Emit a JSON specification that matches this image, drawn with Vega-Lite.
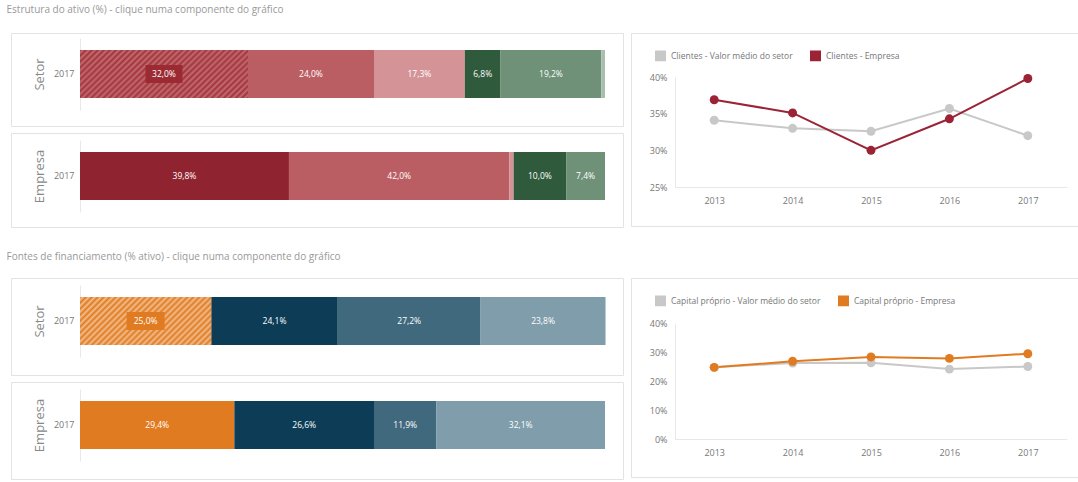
{
  "$schema": "https://vega.github.io/schema/vega-lite/v6.json",
  "background": "white",
  "padding": {"left": 6, "top": 4, "right": 0, "bottom": 0},
  "config": {
    "font": "Open Sans",
    "locale": {"number": {"decimal": ",", "thousands": ".", "grouping": [3], "currency": ["", " €"]}},
    "view": {"stroke": "#e3e3e3", "strokeWidth": 1},
    "axis": {"labelFont": "Open Sans", "labelFontSize": 9, "labelColor": "#777777", "ticks": false, "grid": false, "domainColor": "#e8e8e8", "titleFont": "Open Sans", "titleFontWeight": "normal", "titleColor": "#888888"},
    "title": {"font": "Open Sans", "fontSize": 10, "fontWeight": "normal", "color": "#999999", "anchor": "start"},
    "legend": {"labelFont": "Open Sans"}
  },
  "datasets": {
    "ativo": [
      {"grupo": "Setor", "ano": "2017", "ordem": 1, "componente": "Clientes", "valor": 0.320},
      {"grupo": "Setor", "ano": "2017", "ordem": 2, "componente": "Inventários", "valor": 0.240},
      {"grupo": "Setor", "ano": "2017", "ordem": 3, "componente": "Outros ativos correntes", "valor": 0.173},
      {"grupo": "Setor", "ano": "2017", "ordem": 4, "componente": "Ativos fixos tangíveis", "valor": 0.068},
      {"grupo": "Setor", "ano": "2017", "ordem": 5, "componente": "Outros ativos não correntes", "valor": 0.192},
      {"grupo": "Setor", "ano": "2017", "ordem": 6, "componente": "Ativos intangíveis", "valor": 0.007},
      {"grupo": "Empresa", "ano": "2017", "ordem": 1, "componente": "Clientes", "valor": 0.398},
      {"grupo": "Empresa", "ano": "2017", "ordem": 2, "componente": "Inventários", "valor": 0.420},
      {"grupo": "Empresa", "ano": "2017", "ordem": 3, "componente": "Outros ativos correntes", "valor": 0.008},
      {"grupo": "Empresa", "ano": "2017", "ordem": 4, "componente": "Ativos fixos tangíveis", "valor": 0.100},
      {"grupo": "Empresa", "ano": "2017", "ordem": 5, "componente": "Outros ativos não correntes", "valor": 0.074}
    ],
    "financiamento": [
      {"grupo": "Setor", "ano": "2017", "ordem": 1, "componente": "Capital próprio", "valor": 0.250},
      {"grupo": "Setor", "ano": "2017", "ordem": 2, "componente": "Financiamentos obtidos", "valor": 0.241},
      {"grupo": "Setor", "ano": "2017", "ordem": 3, "componente": "Fornecedores", "valor": 0.272},
      {"grupo": "Setor", "ano": "2017", "ordem": 4, "componente": "Outros passivos", "valor": 0.238},
      {"grupo": "Empresa", "ano": "2017", "ordem": 1, "componente": "Capital próprio", "valor": 0.294},
      {"grupo": "Empresa", "ano": "2017", "ordem": 2, "componente": "Financiamentos obtidos", "valor": 0.266},
      {"grupo": "Empresa", "ano": "2017", "ordem": 3, "componente": "Fornecedores", "valor": 0.119},
      {"grupo": "Empresa", "ano": "2017", "ordem": 4, "componente": "Outros passivos", "valor": 0.321}
    ],
    "clientes": [
      {"ano": "2013", "serie": "Clientes - Valor médio do setor", "valor": 0.341},
      {"ano": "2014", "serie": "Clientes - Valor médio do setor", "valor": 0.330},
      {"ano": "2015", "serie": "Clientes - Valor médio do setor", "valor": 0.326},
      {"ano": "2016", "serie": "Clientes - Valor médio do setor", "valor": 0.357},
      {"ano": "2017", "serie": "Clientes - Valor médio do setor", "valor": 0.320},
      {"ano": "2013", "serie": "Clientes - Empresa", "valor": 0.369},
      {"ano": "2014", "serie": "Clientes - Empresa", "valor": 0.351},
      {"ano": "2015", "serie": "Clientes - Empresa", "valor": 0.300},
      {"ano": "2016", "serie": "Clientes - Empresa", "valor": 0.343},
      {"ano": "2017", "serie": "Clientes - Empresa", "valor": 0.398}
    ],
    "capital": [
      {"ano": "2013", "serie": "Capital próprio - Valor médio do setor", "valor": 0.247},
      {"ano": "2014", "serie": "Capital próprio - Valor médio do setor", "valor": 0.262},
      {"ano": "2015", "serie": "Capital próprio - Valor médio do setor", "valor": 0.263},
      {"ano": "2016", "serie": "Capital próprio - Valor médio do setor", "valor": 0.241},
      {"ano": "2017", "serie": "Capital próprio - Valor médio do setor", "valor": 0.250},
      {"ano": "2013", "serie": "Capital próprio - Empresa", "valor": 0.247},
      {"ano": "2014", "serie": "Capital próprio - Empresa", "valor": 0.268},
      {"ano": "2015", "serie": "Capital próprio - Empresa", "valor": 0.283},
      {"ano": "2016", "serie": "Capital próprio - Empresa", "valor": 0.278},
      {"ano": "2017", "serie": "Capital próprio - Empresa", "valor": 0.294}
    ]
  },
  "spacing": 23,
  "resolve": {"scale": {"x": "independent", "y": "independent", "color": "independent"}},
  "vconcat": [
    {
      "title": {"text": "Estrutura do ativo (%) - clique numa componente do gráfico", "dx": -4, "offset": 18},
      "spacing": 6,
      "resolve": {"scale": {"x": "independent", "y": "independent", "color": "independent"}},
      "hconcat": [
        {
          "spacing": 5,
          "resolve": {"scale": {"x": "independent", "y": "independent", "color": "independent"}},
          "vconcat": [
            {
              "width": 612, "height": 93,
              "data": {"name": "ativo"},
              "transform": [
                {"filter": "datum.grupo === 'Setor'"},
                {"stack": "valor", "groupby": ["grupo"], "sort": [{"field": "ordem", "order": "ascending"}], "as": ["v0", "v1"]}
              ],
              "encoding": {
                "y": {"field": "ano", "type": "nominal", "scale": {"range": [5, 77], "paddingInner": 0, "paddingOuter": 0.25}, "axis": {"title": "Setor", "offset": -69, "labelPadding": 6, "titleFontSize": 13, "titleX": -41, "titleBaseline": "middle"}}
              },
              "layer": [
                {"mark": {"type": "bar"}, "encoding": {"x": {"field": "v0", "type": "quantitative", "scale": {"domain": [0, 1], "range": [69, 594]}, "axis": null}, "x2": {"field": "v1"}, "color": {"field": "componente", "type": "nominal", "scale": {"domain": ["Clientes", "Inventários", "Outros ativos correntes", "Ativos fixos tangíveis", "Outros ativos não correntes", "Ativos intangíveis"], "range": ["#b4555b", "#bb5e63", "#d49497", "#2f5a3b", "#6e9177", "#a9bfae"]}, "legend": null}}},
                {"transform": [{"filter": "datum.ordem === 1"}], "mark": {"type": "bar", "color": {"gradient": "linear", "x1": 0, "y1": 0, "x2": 1.19, "y2": 0.3477, "stops": [
                  {"offset": 0, "color": "#a2333c"}, {"offset": 0.0139, "color": "#c26c71"}, {"offset": 0.0278, "color": "#a2333c"}, {"offset": 0.0417, "color": "#c26c71"}, {"offset": 0.0556, "color": "#a2333c"}, {"offset": 0.0694, "color": "#c26c71"}, {"offset": 0.0833, "color": "#a2333c"}, {"offset": 0.0972, "color": "#c26c71"}, {"offset": 0.1111, "color": "#a2333c"}, {"offset": 0.125, "color": "#c26c71"}, {"offset": 0.1389, "color": "#a2333c"}, {"offset": 0.1528, "color": "#c26c71"}, {"offset": 0.1667, "color": "#a2333c"}, {"offset": 0.1806, "color": "#c26c71"}, {"offset": 0.1944, "color": "#a2333c"}, {"offset": 0.2083, "color": "#c26c71"}, {"offset": 0.2222, "color": "#a2333c"}, {"offset": 0.2361, "color": "#c26c71"}, {"offset": 0.25, "color": "#a2333c"}, {"offset": 0.2639, "color": "#c26c71"}, {"offset": 0.2778, "color": "#a2333c"}, {"offset": 0.2917, "color": "#c26c71"}, {"offset": 0.3056, "color": "#a2333c"}, {"offset": 0.3194, "color": "#c26c71"}, {"offset": 0.3333, "color": "#a2333c"}, {"offset": 0.3472, "color": "#c26c71"}, {"offset": 0.3611, "color": "#a2333c"}, {"offset": 0.375, "color": "#c26c71"}, {"offset": 0.3889, "color": "#a2333c"}, {"offset": 0.4028, "color": "#c26c71"}, {"offset": 0.4167, "color": "#a2333c"}, {"offset": 0.4306, "color": "#c26c71"}, {"offset": 0.4444, "color": "#a2333c"}, {"offset": 0.4583, "color": "#c26c71"}, {"offset": 0.4722, "color": "#a2333c"}, {"offset": 0.4861, "color": "#c26c71"}, {"offset": 0.5, "color": "#a2333c"}, {"offset": 0.5139, "color": "#c26c71"}, {"offset": 0.5278, "color": "#a2333c"}, {"offset": 0.5417, "color": "#c26c71"}, {"offset": 0.5556, "color": "#a2333c"}, {"offset": 0.5694, "color": "#c26c71"}, {"offset": 0.5833, "color": "#a2333c"}, {"offset": 0.5972, "color": "#c26c71"}, {"offset": 0.6111, "color": "#a2333c"}, {"offset": 0.625, "color": "#c26c71"}, {"offset": 0.6389, "color": "#a2333c"}, {"offset": 0.6528, "color": "#c26c71"}, {"offset": 0.6667, "color": "#a2333c"}, {"offset": 0.6806, "color": "#c26c71"}, {"offset": 0.6944, "color": "#a2333c"}, {"offset": 0.7083, "color": "#c26c71"}, {"offset": 0.7222, "color": "#a2333c"}, {"offset": 0.7361, "color": "#c26c71"}, {"offset": 0.75, "color": "#a2333c"}, {"offset": 0.7639, "color": "#c26c71"}, {"offset": 0.7778, "color": "#a2333c"}, {"offset": 0.7917, "color": "#c26c71"}, {"offset": 0.8056, "color": "#a2333c"}, {"offset": 0.8194, "color": "#c26c71"}, {"offset": 0.8333, "color": "#a2333c"}, {"offset": 0.8472, "color": "#c26c71"}, {"offset": 0.8611, "color": "#a2333c"}, {"offset": 0.875, "color": "#c26c71"}, {"offset": 0.8889, "color": "#a2333c"}, {"offset": 0.9028, "color": "#c26c71"}, {"offset": 0.9167, "color": "#a2333c"}, {"offset": 0.9306, "color": "#c26c71"}, {"offset": 0.9444, "color": "#a2333c"}, {"offset": 0.9583, "color": "#c26c71"}, {"offset": 0.9722, "color": "#a2333c"}, {"offset": 0.9861, "color": "#c26c71"}, {"offset": 1, "color": "#a2333c"}
                ]}}, "encoding": {"x": {"field": "v0", "type": "quantitative"}, "x2": {"field": "v1"}}},
                {"transform": [{"filter": "datum.valor >= 0.03"}, {"fold": ["v0", "v1"], "as": ["k", "pos"]}, {"aggregate": [{"op": "mean", "field": "pos", "as": "mid"}], "groupby": ["componente", "ano", "ordem", "valor"]}],
                 "layer": [
                   {"transform": [{"filter": "datum.ordem === 1"}], "mark": {"type": "bar", "color": "#9b2a33", "height": 18, "xOffset": -18.5, "x2Offset": 18.5}, "encoding": {"x": {"field": "mid", "type": "quantitative"}, "x2": {"field": "mid"}}},
                   {"mark": {"type": "text", "color": "white", "fontSize": 8.5}, "encoding": {"x": {"field": "mid", "type": "quantitative"}, "text": {"field": "valor", "type": "quantitative", "format": ".1%"}}}
                 ]}
              ]
            },
            {
              "width": 612, "height": 94,
              "data": {"name": "ativo"},
              "transform": [
                {"filter": "datum.grupo === 'Empresa'"},
                {"stack": "valor", "groupby": ["grupo"], "sort": [{"field": "ordem", "order": "ascending"}], "as": ["v0", "v1"]}
              ],
              "encoding": {
                "y": {"field": "ano", "type": "nominal", "scale": {"range": [7, 79], "paddingInner": 0, "paddingOuter": 0.25}, "axis": {"title": "Empresa", "offset": -69, "labelPadding": 6, "titleFontSize": 13, "titleX": -41, "titleBaseline": "middle"}}
              },
              "layer": [
                {"mark": {"type": "bar"}, "encoding": {"x": {"field": "v0", "type": "quantitative", "scale": {"domain": [0, 1], "range": [69, 594]}, "axis": null}, "x2": {"field": "v1"}, "color": {"field": "componente", "type": "nominal", "scale": {"domain": ["Clientes", "Inventários", "Outros ativos correntes", "Ativos fixos tangíveis", "Outros ativos não correntes", "Ativos intangíveis"], "range": ["#8f2430", "#bb5e63", "#d49497", "#2f5a3b", "#6e9177", "#a9bfae"]}, "legend": null}}},
                {"transform": [{"filter": "datum.valor >= 0.03"}, {"fold": ["v0", "v1"], "as": ["k", "pos"]}, {"aggregate": [{"op": "mean", "field": "pos", "as": "mid"}], "groupby": ["componente", "ano", "ordem", "valor"]}],
                 "mark": {"type": "text", "color": "white", "fontSize": 8.5}, "encoding": {"x": {"field": "mid", "type": "quantitative"}, "text": {"field": "valor", "type": "quantitative", "format": ".1%"}}}
              ]
            }
          ]
        },
        {
          "width": 447, "height": 193,
          "data": {"name": "clientes"},
          "encoding": {
            "x": {"field": "ano", "type": "ordinal", "scale": {"type": "point", "range": [44, 436], "padding": 0.5}, "axis": {"title": null, "labelAngle": 0, "offset": -39, "labelPadding": 9}},
            "y": {"field": "valor", "type": "quantitative", "scale": {"domain": [0.25, 0.40], "range": [154, 44], "nice": false, "zero": false}, "axis": {"title": null, "format": ".0%", "values": [0.25, 0.30, 0.35, 0.40], "offset": -44, "labelPadding": 8}},
            "color": {"field": "serie", "type": "nominal", "scale": {"domain": ["Clientes - Valor médio do setor", "Clientes - Empresa"], "range": ["#c8c8c8", "#9b2335"]}, "legend": {"orient": "none", "legendX": 24, "legendY": 17, "direction": "horizontal", "title": null, "symbolType": "square", "symbolSize": 90, "labelFontSize": 8.5, "labelColor": "#777777", "columnPadding": 14, "labelOffset": 5}}
          },
          "layer": [
            {"mark": {"type": "line", "strokeWidth": 2}},
            {"mark": {"type": "point", "filled": true, "size": 80, "opacity": 1}}
          ]
        }
      ]
    },
    {
      "title": {"text": "Fontes de financiamento (% ativo) - clique numa componente do gráfico", "dx": -4, "offset": 16},
      "spacing": 6,
      "resolve": {"scale": {"x": "independent", "y": "independent", "color": "independent"}},
      "hconcat": [
        {
          "spacing": 5,
          "resolve": {"scale": {"x": "independent", "y": "independent", "color": "independent"}},
          "vconcat": [
            {
              "width": 612, "height": 97,
              "data": {"name": "financiamento"},
              "transform": [
                {"filter": "datum.grupo === 'Setor'"},
                {"stack": "valor", "groupby": ["grupo"], "sort": [{"field": "ordem", "order": "ascending"}], "as": ["v0", "v1"]}
              ],
              "encoding": {
                "y": {"field": "ano", "type": "nominal", "scale": {"range": [7, 79], "paddingInner": 0, "paddingOuter": 0.25}, "axis": {"title": "Setor", "offset": -69, "labelPadding": 6, "titleFontSize": 13, "titleX": -41, "titleBaseline": "middle"}}
              },
              "layer": [
                {"mark": {"type": "bar"}, "encoding": {"x": {"field": "v0", "type": "quantitative", "scale": {"domain": [0, 1], "range": [69, 594]}, "axis": null}, "x2": {"field": "v1"}, "color": {"field": "componente", "type": "nominal", "scale": {"domain": ["Capital próprio", "Financiamentos obtidos", "Fornecedores", "Outros passivos"], "range": ["#e8a05e", "#0d3d56", "#41697e", "#7f9dab"]}, "legend": null}}},
                {"transform": [{"filter": "datum.ordem === 1"}], "mark": {"type": "bar", "color": {"gradient": "linear", "x1": 0, "y1": 0, "x2": 1.2046, "y2": 0.441, "stops": [
                  {"offset": 0, "color": "#e07b21"}, {"offset": 0.0167, "color": "#f2bd8c"}, {"offset": 0.0333, "color": "#e07b21"}, {"offset": 0.05, "color": "#f2bd8c"}, {"offset": 0.0667, "color": "#e07b21"}, {"offset": 0.0833, "color": "#f2bd8c"}, {"offset": 0.1, "color": "#e07b21"}, {"offset": 0.1167, "color": "#f2bd8c"}, {"offset": 0.1333, "color": "#e07b21"}, {"offset": 0.15, "color": "#f2bd8c"}, {"offset": 0.1667, "color": "#e07b21"}, {"offset": 0.1833, "color": "#f2bd8c"}, {"offset": 0.2, "color": "#e07b21"}, {"offset": 0.2167, "color": "#f2bd8c"}, {"offset": 0.2333, "color": "#e07b21"}, {"offset": 0.25, "color": "#f2bd8c"}, {"offset": 0.2667, "color": "#e07b21"}, {"offset": 0.2833, "color": "#f2bd8c"}, {"offset": 0.3, "color": "#e07b21"}, {"offset": 0.3167, "color": "#f2bd8c"}, {"offset": 0.3333, "color": "#e07b21"}, {"offset": 0.35, "color": "#f2bd8c"}, {"offset": 0.3667, "color": "#e07b21"}, {"offset": 0.3833, "color": "#f2bd8c"}, {"offset": 0.4, "color": "#e07b21"}, {"offset": 0.4167, "color": "#f2bd8c"}, {"offset": 0.4333, "color": "#e07b21"}, {"offset": 0.45, "color": "#f2bd8c"}, {"offset": 0.4667, "color": "#e07b21"}, {"offset": 0.4833, "color": "#f2bd8c"}, {"offset": 0.5, "color": "#e07b21"}, {"offset": 0.5167, "color": "#f2bd8c"}, {"offset": 0.5333, "color": "#e07b21"}, {"offset": 0.55, "color": "#f2bd8c"}, {"offset": 0.5667, "color": "#e07b21"}, {"offset": 0.5833, "color": "#f2bd8c"}, {"offset": 0.6, "color": "#e07b21"}, {"offset": 0.6167, "color": "#f2bd8c"}, {"offset": 0.6333, "color": "#e07b21"}, {"offset": 0.65, "color": "#f2bd8c"}, {"offset": 0.6667, "color": "#e07b21"}, {"offset": 0.6833, "color": "#f2bd8c"}, {"offset": 0.7, "color": "#e07b21"}, {"offset": 0.7167, "color": "#f2bd8c"}, {"offset": 0.7333, "color": "#e07b21"}, {"offset": 0.75, "color": "#f2bd8c"}, {"offset": 0.7667, "color": "#e07b21"}, {"offset": 0.7833, "color": "#f2bd8c"}, {"offset": 0.8, "color": "#e07b21"}, {"offset": 0.8167, "color": "#f2bd8c"}, {"offset": 0.8333, "color": "#e07b21"}, {"offset": 0.85, "color": "#f2bd8c"}, {"offset": 0.8667, "color": "#e07b21"}, {"offset": 0.8833, "color": "#f2bd8c"}, {"offset": 0.9, "color": "#e07b21"}, {"offset": 0.9167, "color": "#f2bd8c"}, {"offset": 0.9333, "color": "#e07b21"}, {"offset": 0.95, "color": "#f2bd8c"}, {"offset": 0.9667, "color": "#e07b21"}, {"offset": 0.9833, "color": "#f2bd8c"}, {"offset": 1, "color": "#e07b21"}
                ]}}, "encoding": {"x": {"field": "v0", "type": "quantitative"}, "x2": {"field": "v1"}}},
                {"transform": [{"fold": ["v0", "v1"], "as": ["k", "pos"]}, {"aggregate": [{"op": "mean", "field": "pos", "as": "mid"}], "groupby": ["componente", "ano", "ordem", "valor"]}],
                 "layer": [
                   {"transform": [{"filter": "datum.ordem === 1"}], "mark": {"type": "bar", "color": "#e07b21", "height": 18, "xOffset": -19, "x2Offset": 19}, "encoding": {"x": {"field": "mid", "type": "quantitative"}, "x2": {"field": "mid"}}},
                   {"mark": {"type": "text", "color": "white", "fontSize": 8.5}, "encoding": {"x": {"field": "mid", "type": "quantitative"}, "text": {"field": "valor", "type": "quantitative", "format": ".1%"}}}
                 ]}
              ]
            },
            {
              "width": 612, "height": 97,
              "data": {"name": "financiamento"},
              "transform": [
                {"filter": "datum.grupo === 'Empresa'"},
                {"stack": "valor", "groupby": ["grupo"], "sort": [{"field": "ordem", "order": "ascending"}], "as": ["v0", "v1"]}
              ],
              "encoding": {
                "y": {"field": "ano", "type": "nominal", "scale": {"range": [7, 79], "paddingInner": 0, "paddingOuter": 0.25}, "axis": {"title": "Empresa", "offset": -69, "labelPadding": 6, "titleFontSize": 13, "titleX": -41, "titleBaseline": "middle"}}
              },
              "layer": [
                {"mark": {"type": "bar"}, "encoding": {"x": {"field": "v0", "type": "quantitative", "scale": {"domain": [0, 1], "range": [69, 594]}, "axis": null}, "x2": {"field": "v1"}, "color": {"field": "componente", "type": "nominal", "scale": {"domain": ["Capital próprio", "Financiamentos obtidos", "Fornecedores", "Outros passivos"], "range": ["#e07b21", "#0d3d56", "#41697e", "#7f9dab"]}, "legend": null}}},
                {"transform": [{"fold": ["v0", "v1"], "as": ["k", "pos"]}, {"aggregate": [{"op": "mean", "field": "pos", "as": "mid"}], "groupby": ["componente", "ano", "ordem", "valor"]}],
                 "mark": {"type": "text", "color": "white", "fontSize": 8.5}, "encoding": {"x": {"field": "mid", "type": "quantitative"}, "text": {"field": "valor", "type": "quantitative", "format": ".1%"}}}
              ]
            }
          ]
        },
        {
          "width": 447, "height": 199,
          "data": {"name": "capital"},
          "encoding": {
            "x": {"field": "ano", "type": "ordinal", "scale": {"type": "point", "range": [44, 436], "padding": 0.5}, "axis": {"title": null, "labelAngle": 0, "offset": -38, "labelPadding": 9}},
            "y": {"field": "valor", "type": "quantitative", "scale": {"domain": [0, 0.40], "range": [161, 45], "nice": false, "zero": false}, "axis": {"title": null, "format": ".0%", "values": [0, 0.1, 0.2, 0.3, 0.4], "offset": -44, "labelPadding": 8}},
            "color": {"field": "serie", "type": "nominal", "scale": {"domain": ["Capital próprio - Valor médio do setor", "Capital próprio - Empresa"], "range": ["#c8c8c8", "#e07b21"]}, "legend": {"orient": "none", "legendX": 24, "legendY": 17, "direction": "horizontal", "title": null, "symbolType": "square", "symbolSize": 90, "labelFontSize": 8.5, "labelColor": "#777777", "columnPadding": 14, "labelOffset": 5}}
          },
          "layer": [
            {"mark": {"type": "line", "strokeWidth": 2}},
            {"mark": {"type": "point", "filled": true, "size": 80, "opacity": 1}}
          ]
        }
      ]
    }
  ]
}
